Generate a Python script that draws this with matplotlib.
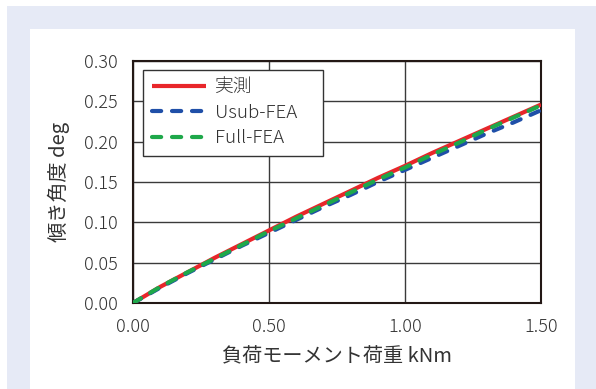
import matplotlib.pyplot as plt
import matplotlib.patches as patches
import numpy as np

plt.rcParams['font.family'] = ['Noto Sans CJK JP', 'DejaVu Sans']
plt.rcParams['font.weight'] = 'light'

# load (kNm) and tilt angle (deg)
load = [0.0, 0.1, 0.2, 0.3, 0.4, 0.5, 0.6, 0.7, 0.8, 0.9, 1.0, 1.1, 1.2, 1.3, 1.4, 1.5]
measured = [0.0, 0.020, 0.038, 0.056, 0.073, 0.090, 0.107, 0.123, 0.139, 0.155,
            0.170, 0.186, 0.201, 0.216, 0.231, 0.246]
usub_fea = [0.0, 0.019, 0.037, 0.054, 0.071, 0.087, 0.103, 0.119, 0.134, 0.150,
            0.165, 0.180, 0.195, 0.210, 0.224, 0.239]
full_fea = [0.0, 0.020, 0.038, 0.055, 0.072, 0.089, 0.105, 0.121, 0.137, 0.153,
            0.168, 0.184, 0.199, 0.215, 0.230, 0.245]

xticks = [0.0, 0.5, 1.0, 1.5]
yticks = [0.0, 0.05, 0.10, 0.15, 0.20, 0.25, 0.30]

fig = plt.figure(figsize=(5.96, 3.89), dpi=100)
fig.patch.set_facecolor('white')

# blue-grey frame with white panel
fig.patches.append(patches.Rectangle((7/596, 0), 1 - 7/596, 1 - 6/389, transform=fig.transFigure,
                                     facecolor='#e6eaf6', edgecolor='none', zorder=-10))
fig.patches.append(patches.Rectangle((30/596, 0), (575 - 30)/596, 1 - 29/389, transform=fig.transFigure,
                                     facecolor='white', edgecolor='none', zorder=-9))

ax = fig.add_axes([133/596, 1 - 303/389, (541 - 133)/596, (303 - 61)/389])
ax.set_zorder(1)

ax.plot(load, measured, color='#e8262a', lw=3.0, solid_capstyle='butt', label='実測', zorder=3)
ax.plot(load, usub_fea, color='#1f4fa8', lw=3.0, dashes=(2.2, 2.6), dash_capstyle='round',
        label='Usub-FEA', zorder=4)
ax.plot(load, full_fea, color='#1ea84a', lw=3.0, dashes=(2.2, 2.6), dash_capstyle='round',
        label='Full-FEA', zorder=5)

ax.set_xlim(0, 1.5)
ax.set_ylim(0, 0.3)
ax.set_xticks(xticks)
ax.set_yticks(yticks)
ax.set_xticklabels(['%.2f' % v for v in xticks])
ax.set_yticklabels(['%.2f' % v for v in yticks])
ax.tick_params(axis='x', length=0, labelsize=13, colors='#333333', pad=11)
ax.tick_params(axis='y', length=0, labelsize=13, colors='#333333', pad=11)
ax.grid(True, color='#3a3a3a', lw=1.0)
ax.set_axisbelow(True)
for s in ax.spines.values():
    s.set_color('#231815')
    s.set_linewidth(1.5)

ax.set_xlabel('負荷モーメント荷重 kNm', fontsize=14.5, color='#333333', labelpad=7)
ax.set_ylabel('傾き角度 deg', fontsize=14.5, color='#333333', labelpad=10)

# legend box stretched to a fixed width
leg = ax.legend(loc='upper left', bbox_to_anchor=(0.025, 0.963, 0.44, 0), mode='expand',
                fontsize=13.5, frameon=True, fancybox=False, handlelength=2.9,
                handletextpad=0.5, borderpad=0.45, labelspacing=0.4, borderaxespad=0)
leg.get_frame().set_edgecolor('#333333')
leg.get_frame().set_linewidth(1.0)
leg.get_frame().set_alpha(1.0)
for t in leg.get_texts():
    t.set_color('#333333')

fig.savefig('out.png', dpi=100)
